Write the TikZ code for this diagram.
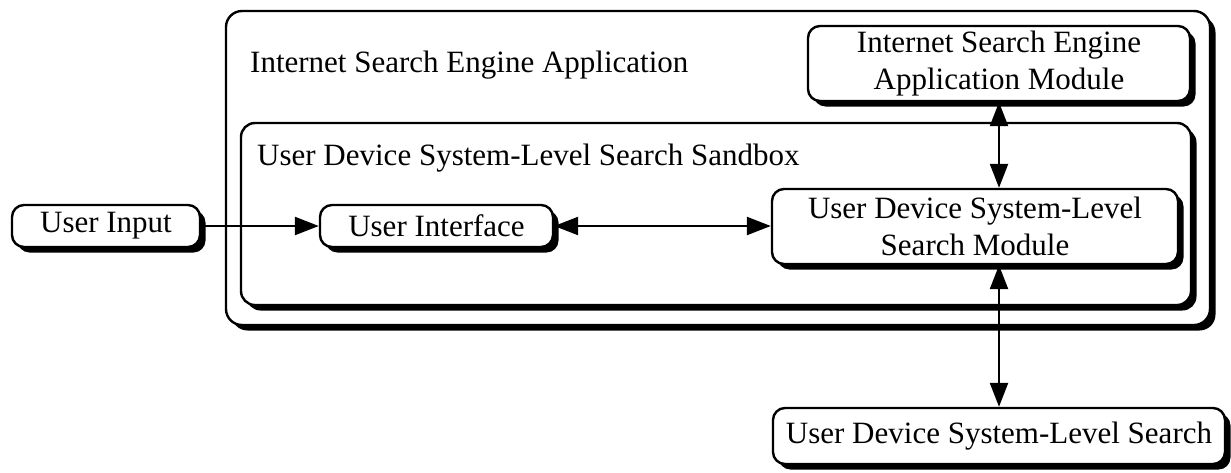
\documentclass[tikz,border=0pt]{standalone}
\usepackage{fontspec}
\setmainfont{Liberation Serif}
\usetikzlibrary{arrows.meta,shadows}
\begin{document}
\begin{tikzpicture}[x=1pt,y=-1pt,
  box/.style={draw, line width=2.4pt, rounded corners=12pt, fill=white,
    inner sep=0pt, align=center,
    font=\fontsize{31}{37}\selectfont,
    drop shadow={shadow xshift=5.5pt, shadow yshift=-5.5pt, fill=black, opacity=1}},
  bigbox/.style={box, rounded corners=16pt},
  lbl/.style={anchor=west, inner sep=0pt, font=\fontsize{31}{37}\selectfont},
  link/.style={line width=2.4pt, -{Triangle[length=24pt,width=18pt]}},
  dlink/.style={line width=2.4pt, {Triangle[length=24pt,width=18pt]}-{Triangle[length=24pt,width=18pt]}}]
\useasboundingbox (0,0) rectangle (1231,472);
% containers
\node[bigbox, minimum width=984pt, minimum height=314pt] (app) at (718,168) {};
\node[lbl] (applbl) at (250,65) {Internet Search Engine Application};
\node[box, rounded corners=14pt, minimum width=950pt, minimum height=182pt] (sandbox) at (716,214) {};
\node[lbl] (sandboxlbl) at (257,158) {User Device System-Level Search Sandbox};
% modules
\node[box, minimum width=382pt, minimum height=75pt] (isem) at (999,63.5) {Internet Search Engine\\Application Module};
\node[box, minimum width=406pt, minimum height=75pt] (sdsm) at (975,226.5) {User Device System-Level\\Search Module};
\node[box, minimum width=233pt, minimum height=42pt] (ui) at (436.5,226) {User Interface};
\node[box, minimum width=188pt, minimum height=42pt] (uin) at (106,226) {User Input};
\node[box, minimum width=452pt, minimum height=56pt] (sds) at (999,436) {User Device System-Level Search};
% connectors
\draw[link] (uin.east) -- (ui.west);
\draw[dlink] (ui.east) -- (ui.east -| sdsm.west);
\draw[dlink] (isem.south) -- (isem.south |- sdsm.north);
\draw[dlink] (sds.north) -- (sds.north |- sdsm.south);
\end{tikzpicture}
\end{document}
